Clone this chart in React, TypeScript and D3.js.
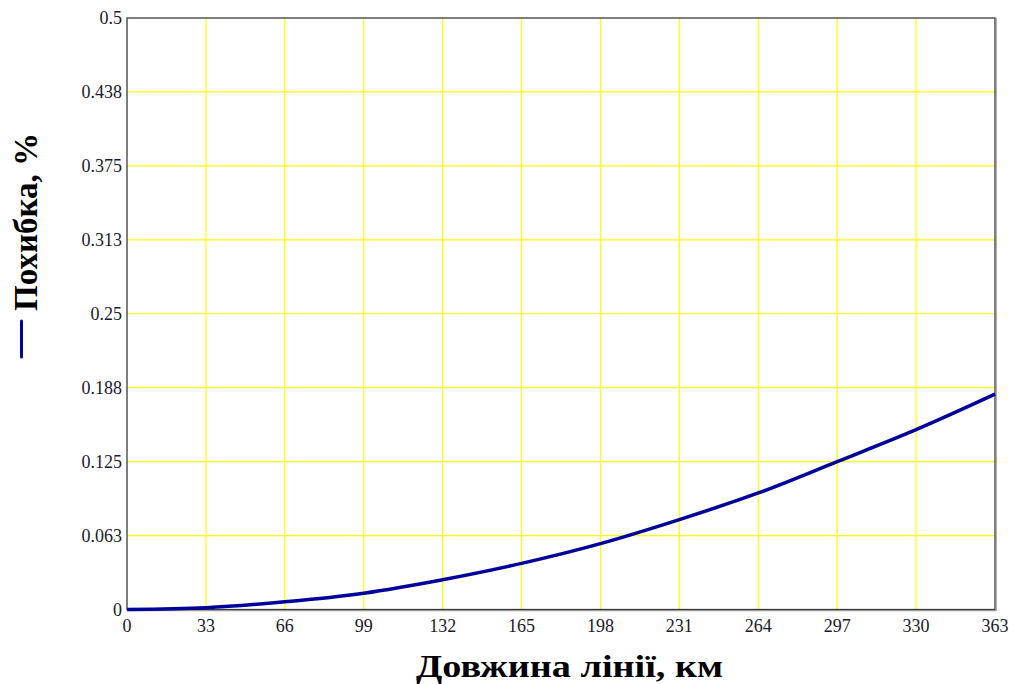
import React from "react";
import * as d3 from "d3";

const xValues = [0, 33, 66, 99, 132, 165, 198, 231, 264, 297, 330, 363];
const errorValues = [0, 0.0015, 0.0065, 0.0138, 0.0252, 0.039, 0.0557, 0.076, 0.0985, 0.125, 0.152, 0.182];
const xTicks = [0, 33, 66, 99, 132, 165, 198, 231, 264, 297, 330, 363];
const yTicks = [0, 0.0625, 0.125, 0.1875, 0.25, 0.3125, 0.375, 0.4375, 0.5];
const yTickLabels = ["0", "0.063", "0.125", "0.188", "0.25", "0.313", "0.375", "0.438", "0.5"];
const xTitle = "Довжина лінії, км";
const yTitle = "Похибка, %";

const W = 1017;
const H = 684;
const L = 127, R = 995, T = 18, B = 609.5;

export default function App() {
  const x = d3.scaleLinear().domain([0, 363]).range([L, R]);
  const y = d3.scaleLinear().domain([0, 0.5]).range([B, T]);
  const pts = xValues.map((v, i) => [v, errorValues[i]] as [number, number]);
  const line = d3
    .line<[number, number]>()
    .x((d) => x(d[0]))
    .y((d) => y(d[1]))
    .curve(d3.curveMonotoneX);
  const font = "'Liberation Serif', 'Times New Roman', serif";
  return (
    <svg
      width={W}
      height={H}
      style={{ position: "absolute", left: 0, top: 0, background: "#fff" }}
    >
      <rect x={0} y={0} width={W} height={H} fill="#fff" />
      {xTicks.slice(1, -1).map((t) => (
        <line key={"gx" + t} x1={x(t)} x2={x(t)} y1={T} y2={B} stroke="#ffff00" strokeWidth={1.2} />
      ))}
      {yTicks.slice(1, -1).map((t) => (
        <line key={"gy" + t} x1={L} x2={R} y1={y(t)} y2={y(t)} stroke="#ffff00" strokeWidth={1.2} />
      ))}
      <rect x={L} y={T} width={R - L} height={B - T} fill="none" stroke="#3a3a3a" strokeWidth={1.3} />
      <line x1={R + 1.2} x2={R + 1.2} y1={T} y2={B + 1} stroke="#888" strokeWidth={1} />
      <line x1={L} x2={R + 1.5} y1={B + 1.2} y2={B + 1.2} stroke="#888" strokeWidth={1} />
      <path d={line(pts) || ""} fill="none" stroke="#00009a" strokeWidth={3.5} />
      {yTicks.map((t, i) => (
        <text
          key={"yl" + t}
          x={122}
          y={y(t)}
          textAnchor="end"
          dominantBaseline="central"
          fontFamily={font}
          fontSize={18}
          fill="#1a1a2a"
        >
          {yTickLabels[i]}
        </text>
      ))}
      {xTicks.map((t) => (
        <text
          key={"xl" + t}
          x={x(t)}
          y={632}
          textAnchor="middle"
          fontFamily={font}
          fontSize={18}
          fill="#1a1a2a"
        >
          {t}
        </text>
      ))}
      <text
        x={569.5}
        y={677}
        textAnchor="middle"
        fontFamily={font}
        fontSize={31}
        fontWeight="bold"
        fill="#000"
        textLength={307}
        lengthAdjust="spacingAndGlyphs"
      >
        {xTitle}
      </text>
      <line x1={21.5} x2={21.5} y1={321} y2={357} stroke="#00009a" strokeWidth={3} strokeLinecap="round" />
      <text
        transform="translate(37,311) rotate(-90)"
        textAnchor="start"
        fontFamily={font}
        fontSize={34}
        fontWeight="bold"
        fill="#000"
        textLength={178}
        lengthAdjust="spacingAndGlyphs"
      >
        {yTitle}
      </text>
    </svg>
  );
}
